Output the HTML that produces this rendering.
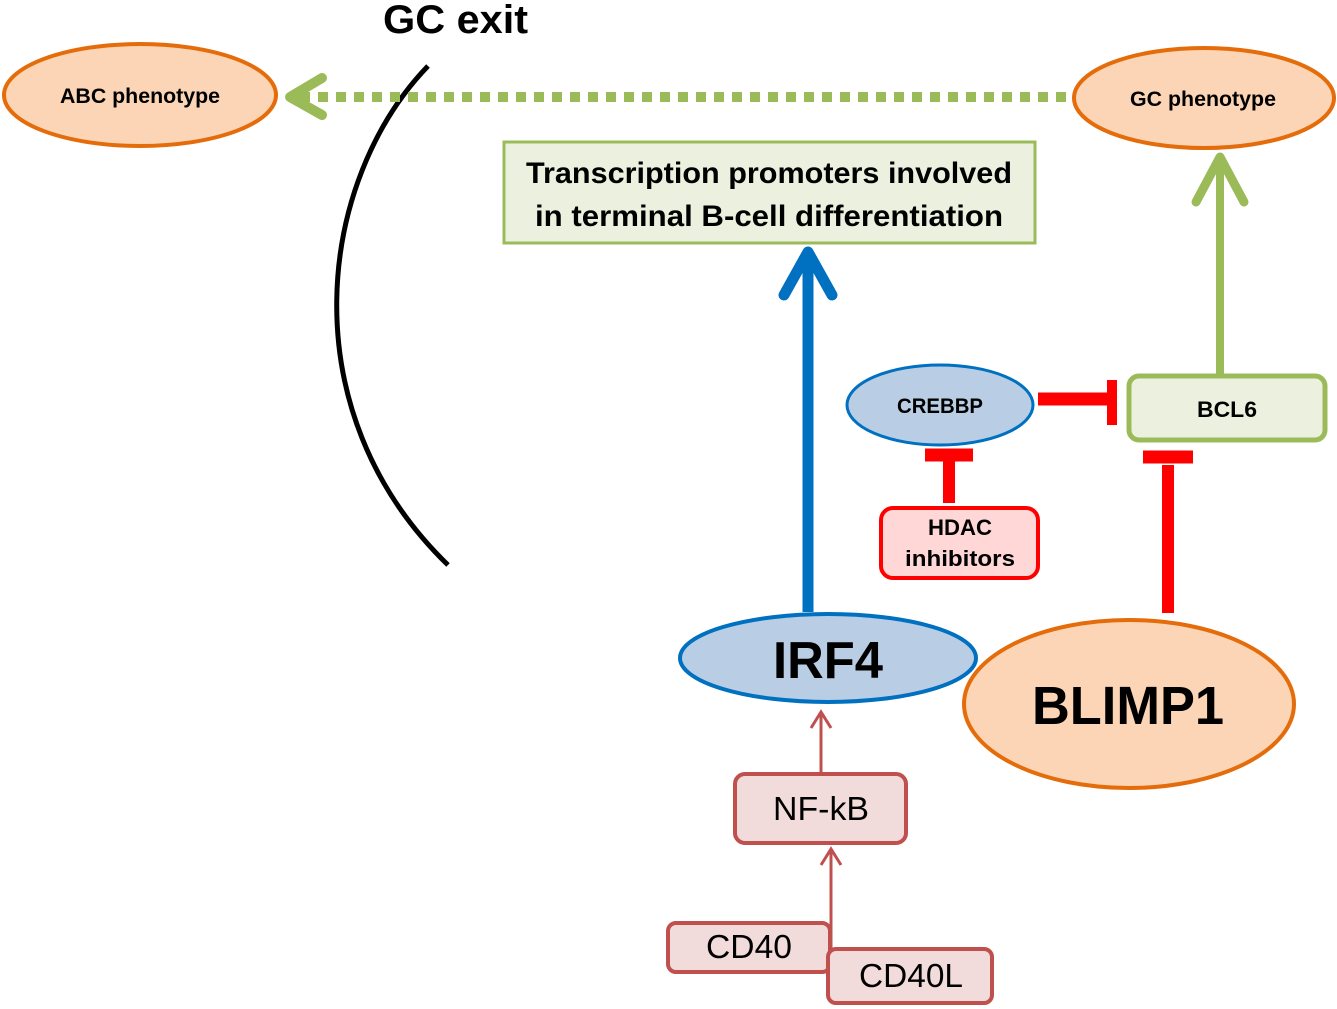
<!DOCTYPE html>
<html><head><meta charset="utf-8"><style>html,body{margin:0;padding:0;background:#fff}svg{display:block}</style></head>
<body>
<svg width="1337" height="1009" viewBox="0 0 1337 1009" xmlns="http://www.w3.org/2000/svg" font-family="Liberation Sans, DejaVu Sans, sans-serif">
<ellipse cx="140" cy="95" rx="136" ry="51" fill="#fbd5b5" stroke="#e46c0a" stroke-width="4"/>
<text x="140" y="103" font-size="21" font-weight="bold" text-anchor="middle" textLength="160" lengthAdjust="spacingAndGlyphs">ABC phenotype</text>
<text x="383" y="33" font-size="40" font-weight="bold" textLength="145" lengthAdjust="spacingAndGlyphs">GC exit</text>
<path d="M428,66 C318,180 288,410 448,565" fill="none" stroke="#000" stroke-width="5"/>
<line x1="300" y1="97" x2="1075" y2="97" stroke="#9bbb59" stroke-width="10" stroke-dasharray="10 8"/>
<polyline points="322,78 290,97 322,115" fill="none" stroke="#9bbb59" stroke-width="10" stroke-linecap="round" stroke-linejoin="round"/>
<ellipse cx="1204" cy="98" rx="130" ry="50" fill="#fbd5b5" stroke="#e46c0a" stroke-width="4"/>
<text x="1203" y="106" font-size="21" font-weight="bold" text-anchor="middle" textLength="146" lengthAdjust="spacingAndGlyphs">GC phenotype</text>
<rect x="504" y="142" width="531" height="101" fill="#ebf1de" stroke="#9bbb59" stroke-width="3"/>
<text x="769" y="183" font-size="30" font-weight="bold" text-anchor="middle" textLength="486" lengthAdjust="spacingAndGlyphs">Transcription  promoters involved</text>
<text x="769" y="226" font-size="30" font-weight="bold" text-anchor="middle" textLength="468" lengthAdjust="spacingAndGlyphs">in terminal  B-cell differentiation</text>
<line x1="808" y1="612" x2="808" y2="256" stroke="#0070c0" stroke-width="11"/>
<polyline points="784,295 808,252 832,295" fill="none" stroke="#0070c0" stroke-width="11" stroke-linecap="round" stroke-linejoin="round"/>
<line x1="1220" y1="376" x2="1220" y2="160" stroke="#9bbb59" stroke-width="8"/>
<polyline points="1196,202 1220,157 1244,202" fill="none" stroke="#9bbb59" stroke-width="9" stroke-linecap="round" stroke-linejoin="round"/>
<ellipse cx="940" cy="405" rx="93" ry="40" fill="#b9cde5" stroke="#0070c0" stroke-width="3"/>
<text x="940" y="413" font-size="21" font-weight="bold" text-anchor="middle" textLength="86" lengthAdjust="spacingAndGlyphs">CREBBP</text>
<rect x="1129" y="376" width="196" height="64" rx="10" fill="#ebf1de" stroke="#9bbb59" stroke-width="5"/>
<text x="1227" y="417" font-size="22" font-weight="bold" text-anchor="middle" textLength="60" lengthAdjust="spacingAndGlyphs">BCL6</text>
<line x1="1038" y1="399" x2="1110" y2="399" stroke="#ff0000" stroke-width="13"/>
<line x1="1112" y1="380" x2="1112" y2="425" stroke="#ff0000" stroke-width="10"/>
<line x1="949" y1="460" x2="949" y2="503" stroke="#ff0000" stroke-width="12"/>
<line x1="925" y1="455" x2="973" y2="455" stroke="#ff0000" stroke-width="13"/>
<rect x="881" y="508" width="157" height="70" rx="12" fill="#ffd7d7" stroke="#ff0000" stroke-width="4"/>
<text x="960" y="535" font-size="22" font-weight="bold" text-anchor="middle" textLength="64" lengthAdjust="spacingAndGlyphs">HDAC</text>
<text x="960" y="566" font-size="22" font-weight="bold" text-anchor="middle" textLength="110" lengthAdjust="spacingAndGlyphs">inhibitors</text>
<line x1="1168" y1="465" x2="1168" y2="613" stroke="#ff0000" stroke-width="12"/>
<line x1="1143" y1="457" x2="1193" y2="457" stroke="#ff0000" stroke-width="13"/>
<ellipse cx="828" cy="658" rx="148" ry="44" fill="#b9cde5" stroke="#0070c0" stroke-width="4"/>
<text x="828" y="678" font-size="52" font-weight="bold" text-anchor="middle" textLength="110" lengthAdjust="spacingAndGlyphs">IRF4</text>
<ellipse cx="1129" cy="704" rx="165" ry="84" fill="#fbd5b5" stroke="#e46c0a" stroke-width="4"/>
<text x="1128" y="724" font-size="54" font-weight="bold" text-anchor="middle" textLength="192" lengthAdjust="spacingAndGlyphs">BLIMP1</text>
<line x1="821" y1="773" x2="821" y2="713" stroke="#c0504d" stroke-width="3"/>
<polyline points="811,728 821,712 831,728" fill="none" stroke="#c0504d" stroke-width="3"/>
<rect x="735" y="774" width="171" height="69" rx="10" fill="#f2dcdb" stroke="#c0504d" stroke-width="4"/>
<text x="821" y="820" font-size="33" text-anchor="middle" textLength="96" lengthAdjust="spacingAndGlyphs">NF-kB</text>
<line x1="831" y1="950" x2="831" y2="850" stroke="#c0504d" stroke-width="3"/>
<polyline points="821,865 831,849 841,865" fill="none" stroke="#c0504d" stroke-width="3"/>
<rect x="668" y="923" width="162" height="49" rx="8" fill="#f2dcdb" stroke="#c0504d" stroke-width="4"/>
<text x="749" y="958" font-size="33" text-anchor="middle" textLength="86" lengthAdjust="spacingAndGlyphs">CD40</text>
<rect x="828" y="949" width="164" height="54" rx="8" fill="#f2dcdb" stroke="#c0504d" stroke-width="4"/>
<text x="911" y="987" font-size="33" text-anchor="middle" textLength="104" lengthAdjust="spacingAndGlyphs">CD40L</text>
</svg>
</body></html>
